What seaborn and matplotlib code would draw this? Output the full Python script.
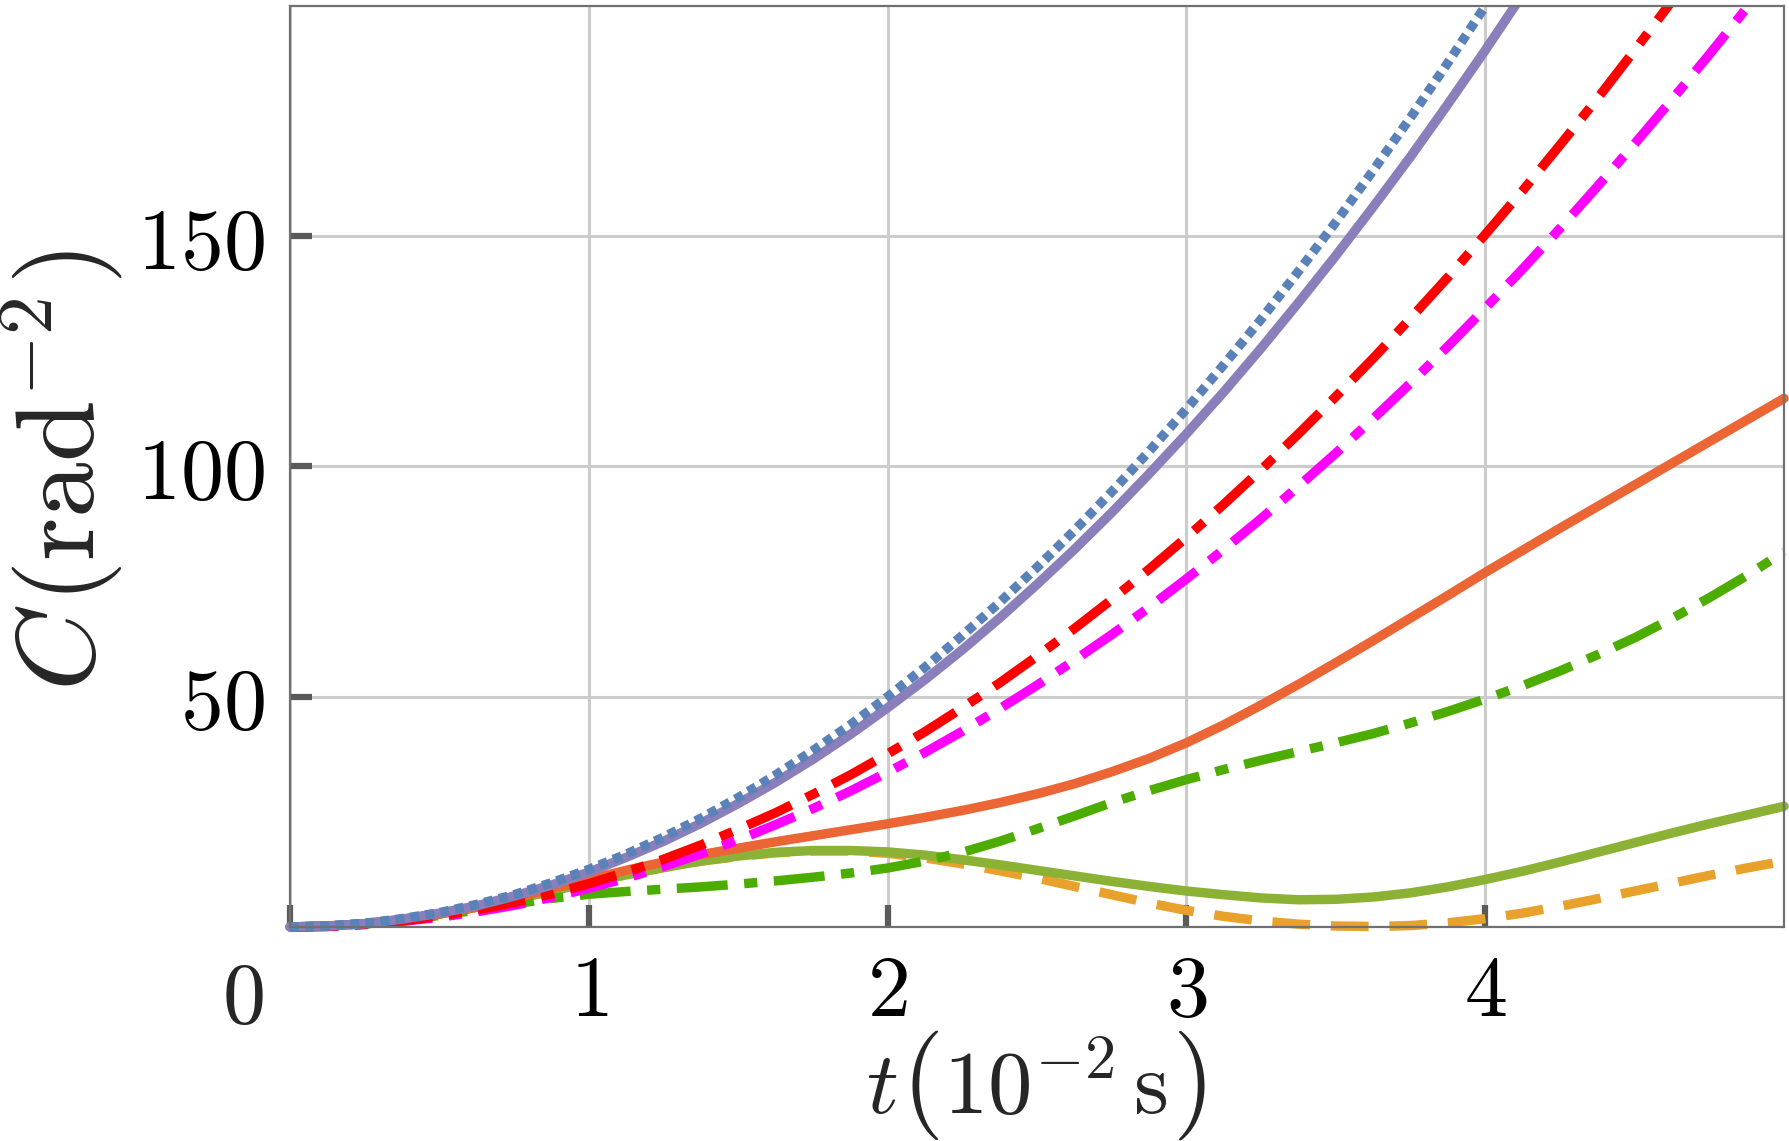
import numpy as np
import pandas as pd
import matplotlib
matplotlib.use("Agg")
import matplotlib.pyplot as plt
import seaborn as sns
from matplotlib.patches import Rectangle
from matplotlib.transforms import IdentityTransform

# ---- data, t in steps of 0.125 ----
t = [0.000, 0.125, 0.250, 0.375, 0.500, 0.625, 0.750, 0.875, 1.000, 1.125,
     1.250, 1.375, 1.500, 1.625, 1.750, 1.875, 2.000, 2.125, 2.250, 2.375,
     2.500, 2.625, 2.750, 2.875, 3.000, 3.125, 3.250, 3.375, 3.500, 3.625,
     3.750, 3.875, 4.000, 4.125, 4.250, 4.375, 4.500, 4.625, 4.750, 4.875,
     5.000]

blue_dotted = [0, 0.2, 0.8, 1.8, 3.1, 4.9, 7.0, 9.6, 12.5, 15.8,
               19.5, 23.6, 28.1, 33.0, 38.3, 43.9, 50.0, 56.4, 63.3, 70.5,
               78.1, 86.1, 94.5, 103.3, 112.5, 122.1, 132.0, 142.4, 153.1, 164.3,
               175.8, 187.7, 200.0, 212.7]
purple_solid = [0, 0.2, 0.7, 1.7, 3.0, 4.6, 6.7, 9.1, 11.9, 15.1,
                18.6, 22.5, 26.8, 31.4, 36.4, 41.8, 47.6, 53.7, 60.2, 67.1,
                74.4, 82.0, 90.0, 98.4, 107.1, 116.2, 125.7, 135.6, 145.8, 156.4,
                167.3, 178.7, 190.4, 202.5, 214.9]
red_dashdot = [0, 0.1, 0.6, 1.3, 2.4, 3.7, 5.3, 7.2, 9.4, 11.9,
               14.7, 17.8, 21.2, 24.8, 28.8, 33.0, 37.6, 42.4, 47.6, 53.0,
               58.8, 64.8, 71.1, 77.7, 84.6, 91.8, 99.3, 107.1, 115.2, 123.5,
               132.2, 141.1, 150.4, 159.9, 169.8, 179.9, 190.4, 201.1, 212.1]
magenta_dashdot = [0, 0.1, 0.5, 1.2, 2.1, 3.3, 4.7, 6.4, 8.4, 10.6,
                   13.1, 15.9, 18.9, 22.2, 25.7, 29.5, 33.6, 37.9, 42.5, 47.4,
                   52.5, 57.9, 63.5, 69.4, 75.6, 82.0, 88.7, 95.7, 102.9, 110.4,
                   118.1, 126.1, 134.4, 142.9, 151.7, 160.8, 170.1, 179.7, 189.5, 199.6,
                   210.0]
orange_solid = [0, 0.2, 0.7, 1.6, 2.8, 4.3, 6.2, 8.3, 10.3, 12.3,
                14.1, 15.7, 17.1, 18.5, 19.8, 21.1, 22.4, 23.8, 25.3, 27.0,
                28.9, 31.1, 33.7, 36.6, 40.0, 43.9, 48.2, 52.7, 57.4, 62.2,
                67.1, 72.0, 77.0, 81.8, 86.6, 91.3, 96.0, 100.7, 105.4, 110.1,
                114.8]
green_dashdot = [0, 0.2, 0.6, 1.4, 2.5, 3.7, 5.0, 6.2, 7.1, 7.7,
                 8.2, 8.7, 9.3, 10.0, 10.8, 11.7, 12.8, 14.3, 16.2, 18.6,
                 21.3, 24.1, 27.0, 29.6, 32.0, 34.2, 36.2, 38.1, 40.0, 42.0,
                 44.3, 46.8, 49.5, 52.4, 55.6, 59.1, 62.8, 67.0, 71.5, 76.3,
                 81.5]
olive_solid = [0, 0.2, 0.7, 1.6, 2.8, 4.3, 6.0, 7.8, 9.6, 11.3,
               12.9, 14.3, 15.4, 16.2, 16.6, 16.6, 16.3, 15.6, 14.6, 13.5,
               12.3, 11.1, 9.9, 8.8, 7.8, 7.0, 6.3, 5.9, 6.0, 6.5,
               7.4, 8.7, 10.3, 12.1, 14.1, 16.2, 18.3, 20.4, 22.4, 24.3,
               26.2]
orange_dashed = [0, 0.2, 0.7, 1.6, 2.8, 4.3, 6.0, 7.8, 9.6, 11.3,
                 12.9, 14.3, 15.3, 16.1, 16.5, 16.5, 16.0, 15.0, 13.7, 12.2,
                 10.6, 8.8, 7.0, 5.2, 3.6, 2.3, 1.3, 0.6, 0.2, 0.1,
                 0.3, 0.9, 1.8, 3.0, 4.5, 6.1, 7.8, 9.5, 11.2, 12.8,
                 14.3]

x_ticks = [0, 1, 2, 3, 4]
x_ticklabels = ["", "$1$", "$2$", "$3$", "$4$"]
y_ticks = [0, 50, 100, 150]
y_ticklabels = ["", "$50$", "$100$", "$150$"]

# ---- style ----
sns.set_theme(style="white")
plt.rcParams["mathtext.fontset"] = "cm"
plt.rcParams["font.family"] = ["DejaVu Serif"]

W, H = 1790, 1141
fig = plt.figure(figsize=(W / 100, H / 100), dpi=100)
ax = fig.add_axes([0.162, 0.1876, 0.8347, 0.8071])

LW = 6.8
series = [
    (orange_dashed, "#E8A12A", (4.0, 2.2)),
    (olive_solid, "#8BB135", None),
    (green_dashdot, "#4CAD00", (5.4, 1.75, 1.4, 1.75)),
    (orange_solid, "#EC6535", None),
    (magenta_dashdot, "#FF00FF", (5.1, 1.75, 1.4, 1.75)),
    (red_dashdot, "#FF0000", (5.1, 1.75, 1.4, 1.75)),
    (purple_solid, "#8A7FBA", None),
    (blue_dotted, "#5A82B9", (0.95, 0.65)),
]

clip_rect = Rectangle((-0.02, -0.02), 1.023, 1.02, transform=ax.transAxes,
                      facecolor="none", edgecolor="none")

for vals, col, dash in series:
    df = pd.DataFrame({"t": t[:len(vals)], "C": vals})
    sns.lineplot(data=df, x="t", y="C", color=col, linewidth=LW, ax=ax,
                 estimator=None, sort=True)
    ln = ax.lines[-1]
    ln.set_linewidth(LW)
    if dash is not None:
        ln.set_dashes(dash)
        ln.set_dash_capstyle("butt")
    ln.set_clip_path(clip_rect)

ax.set_xlabel("")
ax.set_ylabel("")
ax.set_xlim(0, 5)
ax.set_ylim(0, 200)

ax.set_xticks(x_ticks)
ax.set_xticklabels(x_ticklabels)
ax.set_yticks(y_ticks)
ax.set_yticklabels(y_ticklabels)

ax.grid(True, color="#cccccc", linewidth=2.2)
ax.set_axisbelow(True)

for s in ax.spines.values():
    s.set_color("#707070")
    s.set_linewidth(1.6)
    s.set_visible(True)

ax.tick_params(axis="both", which="major", direction="in", length=16, width=4.5,
               color="#5a5a5a", labelsize=62, labelcolor="black")
ax.tick_params(axis="x", pad=17)
ax.tick_params(axis="y", pad=18)
ax.tick_params(top=False, right=False, bottom=True, left=True)

ax.text(-0.157, -0.033, "$0$", transform=ax.get_xaxis_transform(), fontsize=62,
        ha="center", va="top")

# ---- axis labels composed from pieces (larger parentheses, as in the reference) ----
renderer = fig.canvas.get_renderer()


def compose(pieces, gaps, start_center, baseline, vertical=False):
    widths = []
    for s, fs in pieces:
        tmp = fig.text(0, 0, s, fontsize=fs, transform=IdentityTransform())
        widths.append(tmp.get_window_extent(renderer).width)
        tmp.remove()
    total = sum(widths) + sum(gaps)
    pos = start_center - total / 2
    for i, ((s, fs), w) in enumerate(zip(pieces, widths)):
        if vertical:
            fig.text(baseline, pos, s, fontsize=fs, transform=IdentityTransform(),
                     rotation=90, rotation_mode="anchor", ha="left", va="baseline")
        else:
            fig.text(pos, baseline, s, fontsize=fs, transform=IdentityTransform(),
                     ha="left", va="baseline")
        pos += w + (gaps[i] if i < len(gaps) else 0)


# x label: t(10^{-2} s)
compose([(r"$t$", 64), (r"$($", 78), (r"$10^{-2}\,\mathrm{s}$", 64), (r"$)$", 78)],
        gaps=[4, 4, 4], start_center=1036, baseline=H - 1113)

# y label: C(rad^{-2})
compose([(r"$C$", 80), (r"$($", 78), (r"$\mathrm{rad}^{-2}$", 80), (r"$)$", 78)],
        gaps=[2, 4, 14], start_center=H - 471, baseline=95, vertical=True)

fig.savefig("out.png", dpi=100, facecolor="white")
